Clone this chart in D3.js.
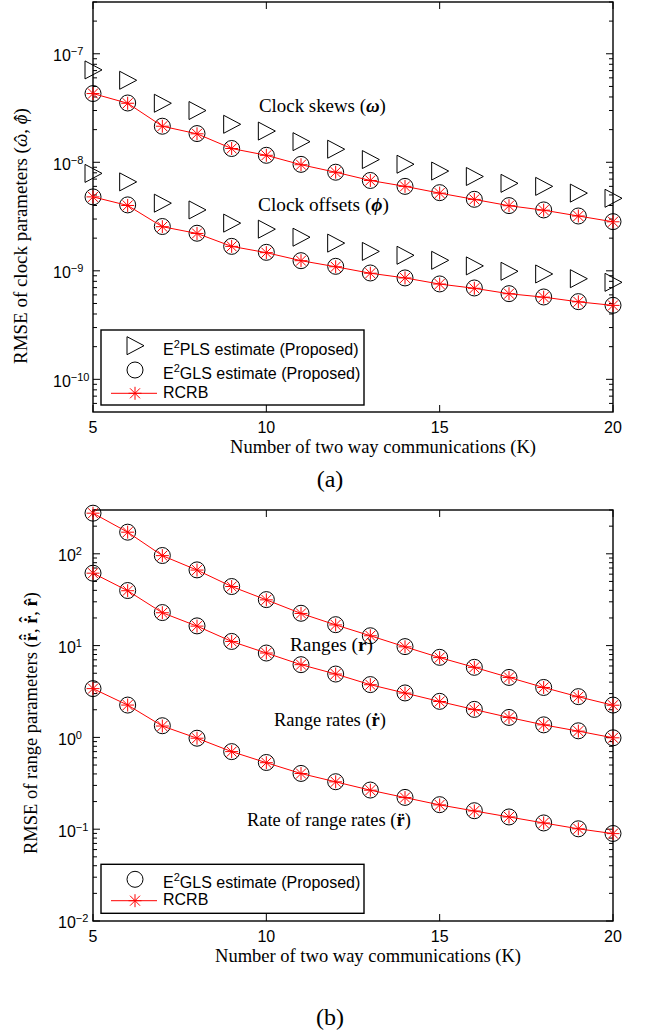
<!DOCTYPE html>
<html><head><meta charset="utf-8">
<script src="https://cdn.jsdelivr.net/npm/d3@7"></script>
<style>body{margin:0;background:#fff}svg{display:block}</style>
</head><body><svg id="c" width="649" height="1034"></svg>
<script>
// ---------- DATA ----------
const K = [5,6,7,8,9,10,11,12,13,14,15,16,17,18,19,20];
// Panel (a): clock parameters
const skewPLS  = [7.1e-8,5.7e-8,3.5e-8,3.0e-8,2.24e-8,1.94e-8,1.55e-8,1.32e-8,1.06e-8,9.6e-9,8.3e-9,7.4e-9,6.4e-9,6.0e-9,5.2e-9,4.66e-9];
const skewGLS  = [4.3e-8,3.52e-8,2.15e-8,1.84e-8,1.34e-8,1.16e-8,9.57e-9,8.1e-9,6.8e-9,6.0e-9,5.25e-9,4.56e-9,3.99e-9,3.64e-9,3.2e-9,2.84e-9];
const skewRCRB = [4.3e-8,3.5e-8,2.15e-8,1.83e-8,1.34e-8,1.16e-8,9.5e-9,8.1e-9,6.8e-9,6.0e-9,5.2e-9,4.55e-9,3.98e-9,3.62e-9,3.2e-9,2.83e-9];
const offPLS   = [7.9e-9,6.6e-9,4.2e-9,3.64e-9,2.75e-9,2.42e-9,2.04e-9,1.8e-9,1.51e-9,1.39e-9,1.25e-9,1.11e-9,9.9e-10,9.35e-10,8.46e-10,7.83e-10];
const offGLS   = [4.8e-9,4.05e-9,2.56e-9,2.22e-9,1.68e-9,1.48e-9,1.24e-9,1.1e-9,9.55e-10,8.6e-10,7.57e-10,6.95e-10,6.16e-10,5.74e-10,5.2e-10,4.81e-10];
const offRCRB  = [4.8e-9,4.0e-9,2.55e-9,2.21e-9,1.68e-9,1.47e-9,1.24e-9,1.09e-9,9.5e-10,8.6e-10,7.55e-10,6.9e-10,6.15e-10,5.72e-10,5.18e-10,4.8e-10];
// Panel (b): range parameters
const rangeGLS  = [277,172,95.8,66.8,44,31.7,22.5,16.9,12.8,9.75,7.45,5.8,4.5,3.5,2.78,2.25];
const rangeRCRB = [277,172,95.5,66.5,44,31.5,22.4,16.8,12.8,9.7,7.4,5.8,4.5,3.5,2.77,2.24];
const rateGLS   = [61.5,39.8,22.9,16.4,11.1,8.3,6.2,4.9,3.76,3.05,2.47,2.02,1.65,1.37,1.18,0.99];
const rateRCRB  = [61.5,39.6,22.8,16.3,11.1,8.3,6.2,4.9,3.75,3.04,2.46,2.01,1.65,1.37,1.17,0.99];
const accGLS    = [3.4,2.25,1.34,0.98,0.70,0.533,0.405,0.329,0.267,0.222,0.185,0.159,0.136,0.117,0.101,0.0898];
const accRCRB   = [3.4,2.25,1.33,0.98,0.70,0.53,0.404,0.328,0.266,0.221,0.184,0.158,0.136,0.117,0.101,0.0895];
// Axes
const xTicks  = [5,10,15,20];
const xDomain = [5,20];
const yDomainA = [5e-11, 3e-7];
const yTicksA  = [1e-10,1e-9,1e-8,1e-7];
const yExpA    = ["−10","−9","−8","−7"];
const yDomainB = [1e-2, 300];
const yTicksB  = [1e-2,1e-1,1e0,1e1,1e2];
const yExpB    = ["−2","−1","0","1","2"];

// ---------- DRAWING ----------
const svg = d3.select("#c");
const SERIF = "'Liberation Serif','Times New Roman',serif";
const SANS = "'Liberation Sans',Arial,Helvetica,sans-serif";
const L = 93, R = 613;
const x = d3.scaleLinear().domain(xDomain).range([L, R]);

function fit(sel, w){
  const n = sel.node(); const fs = parseFloat(sel.attr("font-size"));
  const len = n.getComputedTextLength(); sel.attr("font-size", (fs*w/len).toFixed(2));
}

function drawStar(g, cx, cy){
  const a = 6.5, b = 5;
  const s = g.append("g").attr("stroke","#ff0000").attr("stroke-width",1);
  s.append("line").attr("x1",cx-a).attr("x2",cx+a).attr("y1",cy).attr("y2",cy);
  s.append("line").attr("x1",cx).attr("x2",cx).attr("y1",cy-a).attr("y2",cy+a);
  s.append("line").attr("x1",cx-b).attr("x2",cx+b).attr("y1",cy-b).attr("y2",cy+b);
  s.append("line").attr("x1",cx-b).attr("x2",cx+b).attr("y1",cy+b).attr("y2",cy-b);
}
function drawTri(g, cx, cy){
  g.append("path").attr("d",`M${cx-8},${cy-9}L${cx+9},${cy}L${cx-8},${cy+9}Z`)
   .attr("fill","none").attr("stroke","#000").attr("stroke-width",1);
}
function drawCirc(g, cx, cy){
  g.append("circle").attr("cx",cx).attr("cy",cy).attr("r",8)
   .attr("fill","none").attr("stroke","#000").attr("stroke-width",1);
}

// rotated axis label with accents placed above chosen characters
function yLabel(g, o){
  const grp = g.append("g").attr("transform",`translate(${o.ylx},${o.yly}) rotate(-90)`);
  const t = grp.append("text").attr("text-anchor","middle").attr("font-family",SERIF).attr("font-size",16);
  let idx = 0; const targets = [];
  o.ylabel.forEach(p=>{
    const s = t.append("tspan").text(p.t);
    if(p.b) s.attr("font-weight","bold");
    if(p.i) s.attr("font-style","italic");
    if(p.acc) targets.push({idx, acc:p.acc, b:p.b, i:p.i});
    idx += p.t.length;
  });
  fit(t, o.ylw);
  const fs = parseFloat(t.attr("font-size"));
  targets.forEach(tg=>{
    const bb = t.node().getExtentOfChar(tg.idx);
    const cx = bb.x + bb.width/2 + (tg.i?1.2:0);
    tg.acc.forEach((a,k)=>{
      grp.append("text").attr("x",cx).attr("y",-k*0.24*fs - (a==="ˆ"?0.02*fs:0))
        .attr("text-anchor","middle").attr("font-family",SERIF).attr("font-size",fs)
        .attr("font-weight",tg.b?"bold":"normal").text(a);
    });
  });
}

function panel(o){
  const y = d3.scaleLog().domain(o.yDomain).range([o.bottom, o.top]);
  const g = svg.append("g");
  const [d0,d1] = o.yDomain;
  const e0 = Math.floor(Math.log10(d0)), e1 = Math.ceil(Math.log10(d1));
  const minors = [];
  for(let e=e0;e<=e1;e++) for(let m=2;m<=9;m++){const v=m*Math.pow(10,e); if(v>=d0&&v<=d1) minors.push(v);}
  const tg = g.append("g").attr("stroke","#000").attr("stroke-width",1);
  minors.forEach(v=>{
    tg.append("line").attr("x1",L).attr("x2",L+4).attr("y1",y(v)).attr("y2",y(v));
    tg.append("line").attr("x1",R).attr("x2",R-4).attr("y1",y(v)).attr("y2",y(v));
  });
  o.yTicks.forEach((v,i)=>{
    tg.append("line").attr("x1",L).attr("x2",L+7).attr("y1",y(v)).attr("y2",y(v));
    tg.append("line").attr("x1",R).attr("x2",R-7).attr("y1",y(v)).attr("y2",y(v));
    const t = g.append("text").attr("x",o.ytx).attr("y",y(v)+7.4).attr("text-anchor","start")
      .attr("font-family",SANS).attr("font-size",16);
    t.append("tspan").text("10");
    t.append("tspan").attr("font-size",11).attr("dy",-6).text(o.yExp[i]);
  });
  xTicks.forEach(v=>{
    tg.append("line").attr("x1",x(v)).attr("x2",x(v)).attr("y1",o.bottom).attr("y2",o.bottom-7);
    tg.append("line").attr("x1",x(v)).attr("x2",x(v)).attr("y1",o.top).attr("y2",o.top+7);
    g.append("text").attr("x",x(v)).attr("y",o.bottom+21).attr("text-anchor","middle")
      .attr("font-family",SANS).attr("font-size",16).text(v);
  });
  g.append("rect").attr("x",L).attr("y",o.top).attr("width",R-L).attr("height",o.bottom-o.top)
    .attr("fill","none").attr("stroke","#000").attr("stroke-width",1.4);

  const line = d3.line().x((d,i)=>x(K[i])).y(d=>y(d));
  o.series.forEach(s=>{
    if(s.pls) s.pls.forEach((v,i)=>drawTri(g,x(K[i]),y(v)));
    s.gls.forEach((v,i)=>drawCirc(g,x(K[i]),y(v)));
    g.append("path").datum(s.rcrb).attr("d",line).attr("fill","none").attr("stroke","#ff0000").attr("stroke-width",1);
    s.rcrb.forEach((v,i)=>drawStar(g,x(K[i]),y(v)));
  });

  const xl = g.append("text").attr("x",o.xlx).attr("y",o.bottom+41).attr("text-anchor","middle")
     .attr("font-family",SERIF).attr("font-size",16).text("Number of two way communications (K)");
  fit(xl, 306);
  yLabel(g, o);

  o.notes.forEach(n=>{
    const t = g.append("text").attr("x",n.x).attr("y",n.y).attr("font-family",SERIF).attr("font-size",16);
    t.append("tspan").text(n.a);
    t.append("tspan").attr("font-weight","bold").attr("font-style",n.it?"italic":"normal").text(n.b);
    t.append("tspan").text(")");
    fit(t, n.w);
  });

  const lg = g.append("g");
  lg.append("rect").attr("x",101).attr("y",o.lgTop).attr("width",263).attr("height",o.lgH)
    .attr("fill","#fff").attr("stroke","#000").attr("stroke-width",1.4);
  o.legend.forEach(d=>{
    const [kind,label,my,ty] = d;
    if(kind==="tri") drawTri(lg,135,my);
    if(kind==="circ") drawCirc(lg,135,my);
    if(kind==="rcrb"){
      lg.append("line").attr("x1",111).attr("x2",157).attr("y1",my).attr("y2",my).attr("stroke","#ff0000").attr("stroke-width",1);
      drawStar(lg,135,my);
    }
    const t = lg.append("text").attr("x",163).attr("y",ty).attr("font-family",SANS).attr("font-size",16);
    if(label.indexOf("E2")===0){
      t.append("tspan").text("E");
      t.append("tspan").attr("font-size",11).attr("dy",-7).text("2");
      t.append("tspan").attr("dy",7).text(label.slice(2));
    } else t.text(label);
  });
}

panel({
  top:2, bottom:412, yDomain:yDomainA, yTicks:yTicksA, yExp:yExpA, ytx:53,
  series:[{pls:skewPLS,gls:skewGLS,rcrb:skewRCRB},{pls:offPLS,gls:offGLS,rcrb:offRCRB}],
  xlx:383, ylx:27, yly:236, ylw:256,
  ylabel:[{t:"RMSE of clock parameters ("},{t:"ω",i:true,acc:["ˆ"]},{t:", "},{t:"ϕ",i:true,acc:["ˆ"]},{t:")"}],
  notes:[{x:259,y:112,a:"Clock skews (",b:"ω",it:true,w:127},
         {x:258,y:211,a:"Clock offsets (",b:"ϕ",it:true,w:131}],
  lgTop:330, lgH:75,
  legend:[["tri","E2PLS estimate (Proposed)",345.7,354.5],["circ","E2GLS estimate (Proposed)",370,378.5],["rcrb","RCRB",393.3,398]]
});

panel({
  top:510, bottom:921, yDomain:yDomainB, yTicks:yTicksB, yExp:yExpB, ytx:58,
  series:[{gls:rangeGLS,rcrb:rangeRCRB},{gls:rateGLS,rcrb:rateRCRB},{gls:accGLS,rcrb:accRCRB}],
  xlx:368, ylx:37, yly:723, ylw:262,
  ylabel:[{t:"RMSE of range parameters ("},{t:"r",b:true,acc:["¨","ˆ"]},{t:", "},{t:"r",b:true,acc:["˙","ˆ"]},{t:", "},{t:"r",b:true,acc:["ˆ"]},{t:")"}],
  notes:[{x:290,y:651,a:"Ranges (",b:"r",it:false,w:83},
         {x:274,y:726,a:"Range rates (",b:"ṙ",it:false,w:112},
         {x:247,y:826,a:"Rate of range rates (",b:"r̈",it:false,w:164}],
  lgTop:864.3, lgH:49,
  legend:[["circ","E2GLS estimate (Proposed)",879.3,888],["rcrb","RCRB",900.7,905.3]]
});

svg.append("text").attr("x",330).attr("y",487).attr("text-anchor","middle")
  .attr("font-family",SERIF).attr("font-size",24).text("(a)");
svg.append("text").attr("x",330).attr("y",1025).attr("text-anchor","middle")
  .attr("font-family",SERIF).attr("font-size",24).text("(b)");
</script></body></html>
